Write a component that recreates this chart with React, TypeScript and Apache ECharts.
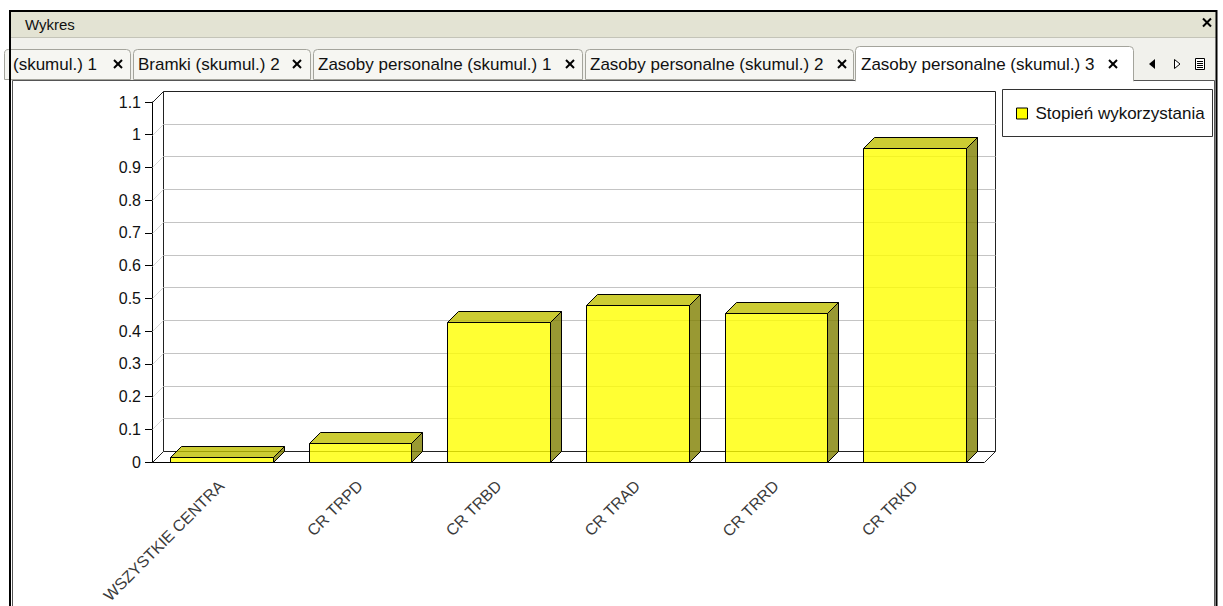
import React, { useEffect, useRef } from "react";
import * as echarts from "echarts";

// Data
const categories = ["WSZYSTKIE CENTRA", "CR TRPD", "CR TRBD", "CR TRAD", "CR TRRD", "CR TRKD"];
const utilisation = [0.015, 0.058, 0.429, 0.48, 0.457, 0.958];
const yTicks = [0, 0.1, 0.2, 0.3, 0.4, 0.5, 0.6, 0.7, 0.8, 0.9, 1, 1.1];
const seriesName = "Stopień wykorzystania";
const windowTitle = "Wykres";
const tabLabels = [
  "(skumul.) 1",
  "Bramki (skumul.) 2",
  "Zasoby personalne (skumul.) 1",
  "Zasoby personalne (skumul.) 2",
  "Zasoby personalne (skumul.) 3",
];

// Layout of the window chrome
const tabLeft = [4, 133, 313, 585, 855];
const tabRight = [130, 310, 582, 853, 1133];
const tabTextX = [13, 138, 318, 590, 861];
const tabCloseX = [118, 297, 570, 842, 1113];
const activeTab = 4;

const FONT = "'Liberation Sans', Arial, sans-serif";
const DEPTH = 11;

const crossLines = (cx: number, cy: number, half: number, z = 0) => [
  {
    type: "line",
    z,
    shape: { x1: cx - half, y1: cy - half, x2: cx + half, y2: cy + half },
    style: { stroke: "#000", lineWidth: 2 },
  },
  {
    type: "line",
    z,
    shape: { x1: cx - half, y1: cy + half, x2: cx + half, y2: cy - half },
    style: { stroke: "#000", lineWidth: 2 },
  },
];

function buildChrome(): any[] {
  const els: any[] = [];
  // title bar
  els.push({ type: "rect", shape: { x: 11, y: 12, width: 1205, height: 25 }, style: { fill: "#e3e3d3" } });
  els.push({
    type: "text",
    x: 25,
    y: 24,
    style: { text: windowTitle, fill: "#111", font: `15px ${FONT}`, verticalAlign: "middle" },
  });
  els.push(...crossLines(1207, 22.5, 4));
  // tab strip
  els.push({ type: "rect", shape: { x: 11, y: 37, width: 1205, height: 44 }, style: { fill: "#f1f1ec" } });
  els.push({
    type: "line",
    shape: { x1: 11, y1: 37.5, x2: 1216, y2: 37.5 },
    style: { stroke: "#c4c4b8", lineWidth: 1 },
  });
  // content panel
  els.push({
    type: "rect",
    shape: { x: 12.5, y: 80.5, width: 1202, height: 600 },
    style: { fill: "#ffffff", stroke: "#555", lineWidth: 1 },
  });
  // tabs
  tabLabels.forEach((label, i) => {
    const active = i === activeTab;
    const top = active ? 46.5 : 49.5;
    const bottom = active ? 81 : 79.5;
    els.push({
      type: "rect",
      shape: { x: tabLeft[i] + 0.5, y: top, width: tabRight[i] - tabLeft[i], height: bottom - top, r: [4, 4, 0, 0] },
      style: { fill: active ? "#ffffff" : "#f6f6f2", stroke: "#a4a49c", lineWidth: 1 },
    });
    if (active) {
      els.push({
        type: "rect",
        shape: { x: tabLeft[i] + 1, y: 79, width: tabRight[i] - tabLeft[i] - 1, height: 3 },
        style: { fill: "#ffffff" },
      });
    }
    els.push({
      type: "text",
      x: tabTextX[i],
      y: 64,
      style: { text: label, fill: "#111", font: `17px ${FONT}`, verticalAlign: "middle" },
    });
    els.push(...crossLines(tabCloseX[i], 64, 4));
  });
  // scroll arrows and list button
  els.push({
    type: "polygon",
    shape: { points: [[1155, 59], [1155, 69], [1149, 64]] },
    style: { fill: "#000" },
  });
  els.push({
    type: "polygon",
    shape: { points: [[1174.5, 59.5], [1174.5, 68.5], [1180, 64]] },
    style: { fill: "#fff", stroke: "#000", lineWidth: 1 },
  });
  els.push({
    type: "rect",
    shape: { x: 1195.5, y: 58.5, width: 9, height: 11 },
    style: { fill: "#fff", stroke: "#000", lineWidth: 1 },
  });
  [61.5, 63.5, 65.5, 67.5].forEach((y) =>
    els.push({
      type: "line",
      shape: { x1: 1197, y1: y, x2: 1203, y2: y },
      style: { stroke: "#000", lineWidth: 1 },
    })
  );
  // legend box
  els.push({
    type: "rect",
    shape: { x: 1002.5, y: 89.5, width: 210, height: 47 },
    style: { fill: "#ffffff", stroke: "#333", lineWidth: 1 },
  });
  // outer window border
  els.push({
    type: "rect",
    shape: { x: 10, y: 11, width: 1206.5, height: 700 },
    style: { fill: "none", stroke: "#000", lineWidth: 2 },
  });
  return els;
}

const px = (v: number) => Math.round(v) + 0.5;

function renderWalls(params: any, api: any) {
  const cs = params.coordSys;
  const v = api.value(1);
  const y = px(api.coord([0, v])[1]);
  const left = px(cs.x);
  const right = px(cs.x + cs.width);
  const top = px(cs.y);
  const bottom = px(cs.y + cs.height);
  const edge = v === yTicks[0] || v === yTicks[yTicks.length - 1];
  const col = edge ? "#222" : "#c4c4c4";
  const diag = edge ? "#222" : "#d8d8d8";
  const children: any[] = [
    { type: "line", shape: { x1: left, y1: y, x2: left + DEPTH, y2: y - DEPTH }, style: { stroke: diag, lineWidth: 1 } },
    {
      type: "line",
      shape: { x1: left + DEPTH, y1: y - DEPTH, x2: right + DEPTH, y2: y - DEPTH },
      style: { stroke: col, lineWidth: 1 },
    },
  ];
  if (params.dataIndex === 0) {
    children.push(
      {
        type: "line",
        shape: { x1: left + DEPTH, y1: top - DEPTH, x2: left + DEPTH, y2: bottom - DEPTH },
        style: { stroke: "#222", lineWidth: 1 },
      },
      {
        type: "line",
        shape: { x1: right + DEPTH, y1: top - DEPTH, x2: right + DEPTH, y2: bottom - DEPTH },
        style: { stroke: "#222", lineWidth: 1 },
      },
      {
        type: "line",
        shape: { x1: right, y1: bottom, x2: right + DEPTH, y2: bottom - DEPTH },
        style: { stroke: "#222", lineWidth: 1 },
      }
    );
  }
  return { type: "group", children };
}

function renderBar(params: any, api: any) {
  const idx = api.value(0);
  const v = api.value(1);
  const base = api.coord([idx, 0]);
  const topPt = api.coord([idx, v]);
  const w = api.size([1, 0])[0] * 0.74;
  const x0 = px(base[0] - w / 2);
  const x1 = px(base[0] + w / 2);
  const yb = px(base[1]);
  const yt = px(topPt[1]);
  const stroke = { stroke: "#000", lineWidth: 1, lineJoin: "miter" };
  return {
    type: "group",
    children: [
      {
        type: "polygon",
        shape: { points: [[x1, yb], [x1 + DEPTH, yb - DEPTH], [x1 + DEPTH, yt - DEPTH], [x1, yt]] },
        style: { fill: "rgba(128,128,0,0.8)", ...stroke },
      },
      {
        type: "polygon",
        shape: { points: [[x0, yt], [x0 + DEPTH, yt - DEPTH], [x1 + DEPTH, yt - DEPTH], [x1, yt]] },
        style: { fill: "rgba(191,191,0,0.8)", ...stroke },
      },
      {
        type: "rect",
        shape: { x: x0, y: yt, width: x1 - x0, height: yb - yt },
        style: { fill: "rgba(255,255,0,0.8)", ...stroke },
      },
    ],
  };
}

export default function App() {
  const ref = useRef<HTMLDivElement>(null);

  useEffect(() => {
    if (!ref.current) return;
    const chart = echarts.init(ref.current, undefined, { renderer: "svg" });
    chart.setOption({
      animation: false,
      backgroundColor: "#ffffff",
      textStyle: { fontFamily: FONT },
      grid: { left: 152, right: 239, top: 102, bottom: 143 },
      xAxis: {
        type: "category",
        data: categories,
        z: 1,
        axisLine: { lineStyle: { color: "#000", width: 1 } },
        axisTick: { alignWithLabel: true, length: 6, lineStyle: { color: "#000" } },
        axisLabel: { interval: 0, rotate: 45, margin: 21, fontSize: 16, color: "#3a3a3a", fontFamily: FONT },
        splitLine: { show: false },
      },
      yAxis: {
        type: "value",
        min: 0,
        max: 1.1,
        interval: 0.1,
        z: 1,
        axisLine: { show: true, lineStyle: { color: "#000", width: 1 } },
        axisTick: { show: true, length: 7, lineStyle: { color: "#000" } },
        axisLabel: { fontSize: 16, color: "#111", margin: 11, fontFamily: FONT },
        splitLine: { show: false },
      },
      legend: {
        data: [seriesName],
        left: 1016,
        top: 105,
        padding: 0,
        itemWidth: 11,
        itemHeight: 11,
        icon: "rect",
        itemStyle: { color: "#ffff00", borderColor: "#000", borderWidth: 1 },
        textStyle: { fontSize: 17, color: "#111", fontFamily: FONT, padding: [0, 0, 0, 3] },
      },
      graphic: { elements: buildChrome() },
      series: [
        {
          name: "walls",
          type: "custom",
          silent: true,
          clip: false,
          data: yTicks.map((v) => [0, v]),
          encode: { x: 0, y: 1 },
          renderItem: renderWalls,
        },
        {
          name: seriesName,
          type: "custom",
          clip: false,
          itemStyle: { color: "#ffff00" },
          data: utilisation.map((v, i) => [i, v]),
          encode: { x: 0, y: 1 },
          renderItem: renderBar,
        },
      ],
    });
    return () => chart.dispose();
  }, []);

  return <div ref={ref} style={{ position: "fixed", left: 0, top: 0, width: 1223, height: 606 }} />;
}
